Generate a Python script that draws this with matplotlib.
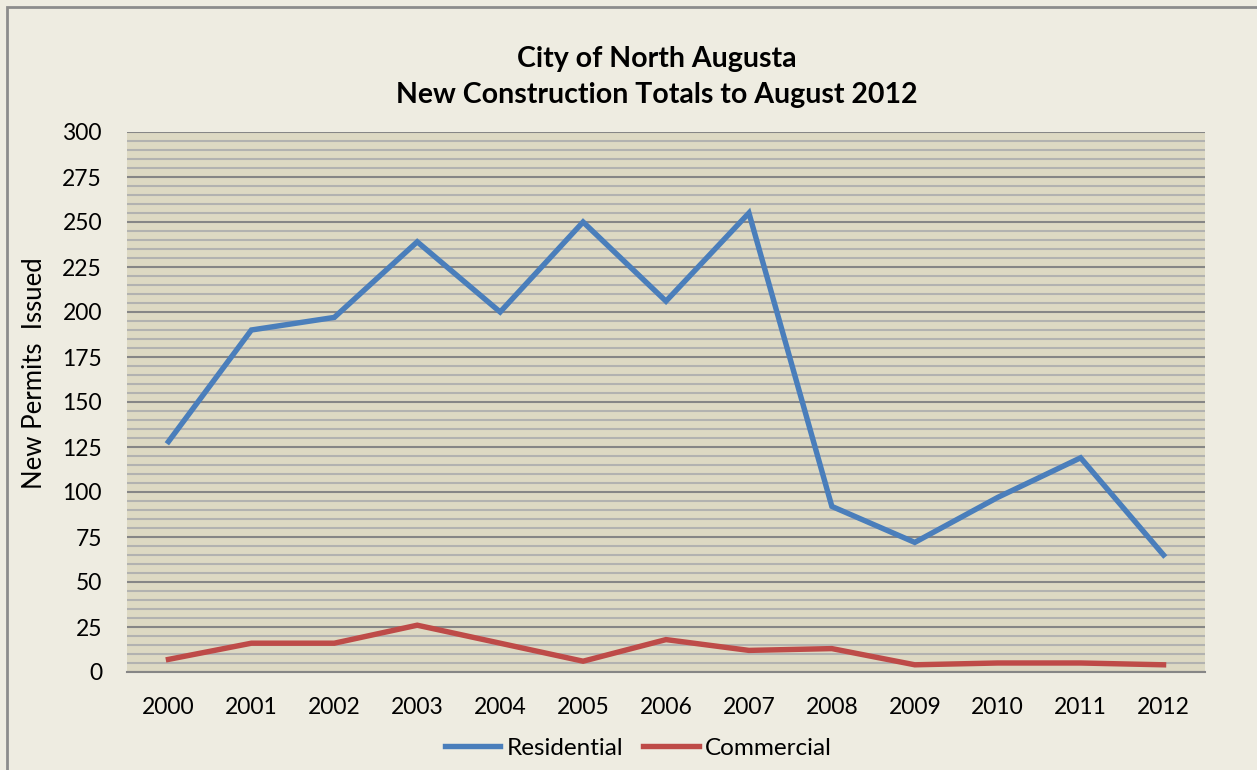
import matplotlib
matplotlib.use("Agg")
import matplotlib.pyplot as plt
from matplotlib.ticker import MultipleLocator
from matplotlib.patches import Rectangle

years = ["2000", "2001", "2002", "2003", "2004", "2005", "2006",
         "2007", "2008", "2009", "2010", "2011", "2012"]
residential = [128, 190, 197, 239, 200, 250, 206, 255, 92, 72, 97, 119, 65]
commercial = [7, 16, 16, 26, 16, 6, 18, 12, 13, 4, 5, 5, 4]

plt.rcParams['font.family'] = ['Lato', 'DejaVu Sans']

fig = plt.figure(figsize=(12.57, 7.7), dpi=100)
fig.patch.set_facecolor('#EEECE1')
fig.patches.append(Rectangle((7/1257, -0.05), 1.2, 1 - 7/770 + 0.05,
                             transform=fig.transFigure, fill=False,
                             edgecolor='#8C8C8C', linewidth=2))

ax = fig.add_axes([127/1257, 1 - 672/770, (1205 - 127)/1257, (672 - 132)/770])
ax.set_facecolor('#DDD9C3')
x = list(range(len(years)))
ax.plot(x, residential, color='#4A7EBB', linewidth=3.9, label='Residential',
        solid_joinstyle='miter')
ax.plot(x, commercial, color='#BE4B48', linewidth=3.9, label='Commercial',
        solid_joinstyle='miter')

ax.set_xlim(-0.5, len(years) - 0.5)
ax.set_ylim(0, 300)
ax.yaxis.set_major_locator(MultipleLocator(25))
ax.yaxis.set_minor_locator(MultipleLocator(5))
ax.set_xticks(x)
ax.set_xticklabels(years)
ax.grid(which='major', axis='y', color='#868686', linewidth=1.5)
ax.grid(which='minor', axis='y', color='#B2B2B0', linewidth=1.5)
ax.set_axisbelow(True)
for s in ['top', 'right', 'left']:
    ax.spines[s].set_visible(False)
ax.spines['bottom'].set_color('#868686')
ax.spines['bottom'].set_linewidth(1.5)
ax.tick_params(axis='both', which='both', length=0, labelsize=16.5, colors='black')
ax.tick_params(axis='x', pad=18)
ax.tick_params(axis='y', pad=18)

ax.set_ylabel('New Permits  Issued', fontsize=18.5)
ax.yaxis.set_label_coords(-(127 - 47) / 1078, (672 - 373) / 540)
fig.text(657/1257, 1 - 77/770, 'City of North Augusta\nNew Construction Totals to August 2012',
         ha='center', va='center', fontsize=20.5, fontweight='bold', linespacing=1.5)

leg = fig.legend(loc='center', bbox_to_anchor=(638/1257, 1 - 748/770), ncol=2,
                 frameon=False, fontsize=17.5, handlelength=2.3, handletextpad=0.25,
                 columnspacing=0.8)

fig.savefig('out.png', dpi=100, facecolor=fig.get_facecolor())
